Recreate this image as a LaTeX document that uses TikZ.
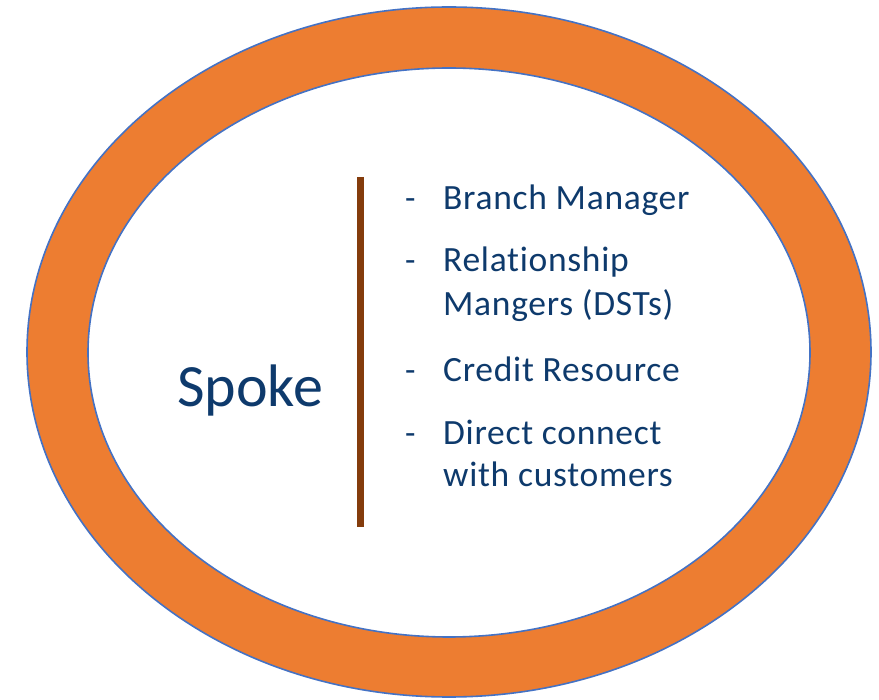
\documentclass[tikz,border=0pt]{standalone}
\usepackage{fontspec}
\setmainfont[Ligatures=NoCommon]{Carlito}
\newfontfamily\itemfont[Ligatures=NoCommon,LetterSpace=2]{Carlito}
\definecolor{ringorange}{HTML}{ED7D31}
\definecolor{ringblue}{HTML}{4472C4}
\definecolor{txtblue}{HTML}{0E3A6C}
\definecolor{barbrown}{HTML}{843C0C}
\begin{document}
\begin{tikzpicture}[x=1pt,y=-1pt,
  item/.style={anchor=base west,inner sep=0pt,text=txtblue,font=\itemfont\fontsize{35.5}{40}\selectfont},
  dashmark/.style={anchor=base west,inner sep=0pt,text=txtblue,font=\fontsize{34}{40}\selectfont},
  title/.style={anchor=base west,inner sep=0pt,text=txtblue,font=\fontsize{60}{70}\selectfont},
  ringline/.style={draw=ringblue,line width=1.6pt}]
\useasboundingbox (0,0) rectangle (879,700);
\fill[ringorange,even odd rule] (449,352) ellipse [x radius=422,y radius=345]
  (449,352.5) ellipse [x radius=361,y radius=284.5];
\draw[ringline] (449,352) ellipse [x radius=422,y radius=345];
\draw[ringline] (449,352.5) ellipse [x radius=361,y radius=284.5];
\coordinate (bartop) at (360,177);
\coordinate (barbot) at (360,527);
\draw[barbrown,line width=7pt] (bartop) -- (barbot);
\node[title] (spoke) at (177,407) {Spoke};
\node[dashmark] (d1) at (405,210) {-};
\node[item] (t1) at (443,210) {Branch Manager};
\node[dashmark] (d2) at (405,272) {-};
\node[item] (t2a) at (443,272) {Relationship};
\node[item] (t2b) at (443,316) {Mangers (DSTs)};
\node[dashmark] (d3) at (405,382) {-};
\node[item] (t3) at (443,382) {Credit Resource};
\node[dashmark] (d4) at (405,445) {-};
\node[item] (t4a) at (443,445) {Direct connect};
\node[item] (t4b) at (443,487) {with customers};
\end{tikzpicture}
\end{document}
